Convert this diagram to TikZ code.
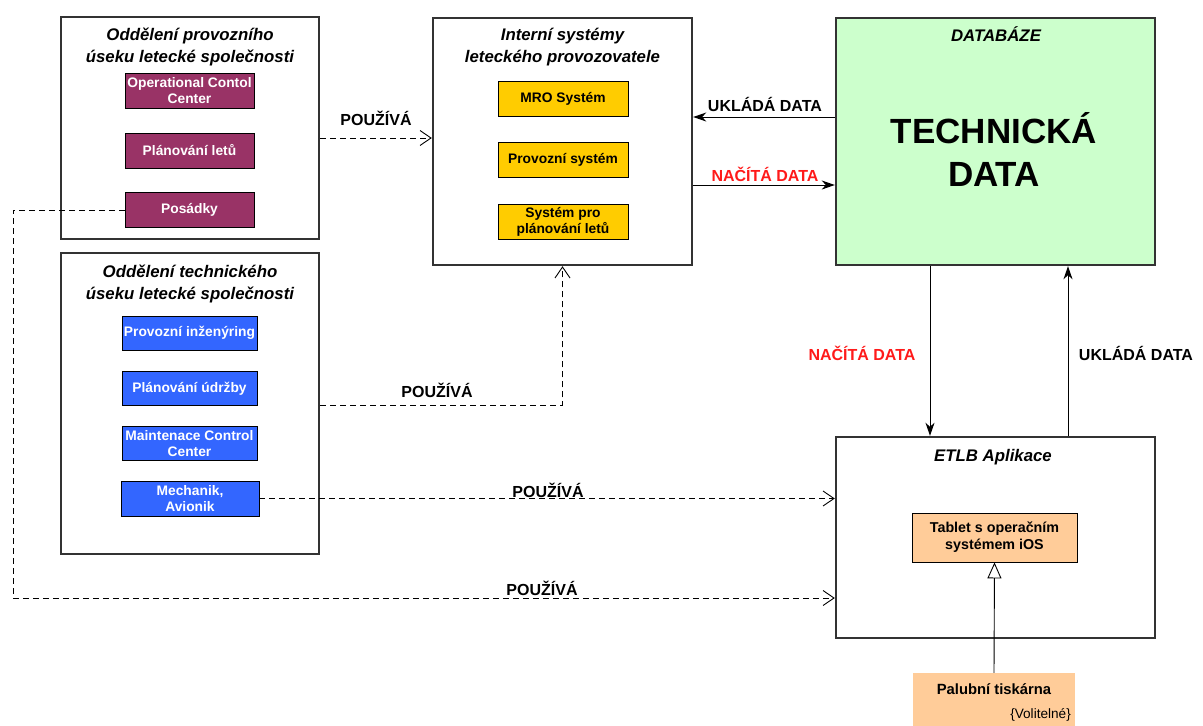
\documentclass[tikz,border=0pt]{standalone}
\usepackage{fontspec}
\setmainfont{Liberation Sans}
\usetikzlibrary{arrows.meta}

\definecolor{grpframe}{HTML}{333333}
\definecolor{opspurple}{HTML}{993366}
\definecolor{techblue}{HTML}{3366FF}
\definecolor{sysyellow}{HTML}{FFCC00}
\definecolor{dbgreen}{HTML}{CCFFCC}
\definecolor{devpeach}{HTML}{FFCC99}
\definecolor{loadred}{HTML}{FF1A1A}

\newcommand{\fs}[2]{\fontsize{#1}{#2}\selectfont}

\tikzset{
  group/.style={draw=grpframe, line width=2.4pt, fill=white, inner sep=0pt},
  unit/.style={draw=black, line width=0.8pt, inner sep=0pt, align=center,
    font=\fs{13.8}{16}\bfseries},
  opsbox/.style={unit, fill=opspurple, text=white, minimum width=129pt, minimum height=35pt},
  techbox/.style={unit, fill=techblue, text=white, minimum width=135pt, minimum height=34pt},
  sysbox/.style={unit, fill=sysyellow, text=black, minimum width=130pt, minimum height=35pt},
  grouptitle/.style={align=center, font=\fs{16.8}{21.5}\bfseries\itshape, inner sep=0pt},
  flowlabel/.style={font=\fs{16}{18}\bfseries, inner sep=0pt},
  uses/.style={draw=black, line width=0.9pt, dash pattern=on 6pt off 4pt,
    -{Straight Barb[length=11pt,width=15pt,line width=0.9pt]}},
  dataflow/.style={draw=black, line width=1pt, -{Stealth[length=13pt,width=9pt,inset=4pt]}},
}

\begin{document}
\begin{tikzpicture}[x=1pt, y=-1pt]
\useasboundingbox[fill=white] (0,0) rectangle (1203,726);

% ---- organisational groups ----
\node[group, minimum width=258pt, minimum height=222pt] (ops) at (190,128) {};
\node[grouptitle] (opsT) at (190,47) {Oddělení provozního\\úseku letecké společnosti};
\node[opsbox] (occ) at (189.5,90.5) {Operational Contol\\Center};
\node[opsbox] (plan) at (189.5,150.5) {Plánování letů};
\node[opsbox] (crew) at (189.5,210) {Posádky};

\node[group, minimum width=258pt, minimum height=301pt] (tech) at (190,403.5) {};
\node[grouptitle] (techT) at (190,284) {Oddělení technického\\úseku letecké společnosti};
\node[techbox] (eng) at (189.5,333) {Provozní inženýring};
\node[techbox] (mplan) at (189.5,388.5) {Plánování údržby};
\node[techbox] (mcc) at (189.5,443.5) {Maintenace Control\\Center};
\node[techbox, minimum width=138pt, minimum height=35pt] (mech) at (190,498.5) {Mechanik,\\Avionik};

% ---- internal systems ----
\node[group, minimum width=259pt, minimum height=247pt] (sys) at (562.5,141.5) {};
\node[grouptitle] (sysT) at (562.5,47) {Interní systémy\\leteckého provozovatele};
\node[sysbox] (mro) at (563,98.5) {MRO Systém};
\node[sysbox] (opsys) at (563,159.5) {Provozní systém};
\node[sysbox] (fps) at (563,221.5) {Systém pro\\plánování letů};

% ---- database ----
\node[group, fill=dbgreen, minimum width=319pt, minimum height=247pt] (db) at (995.5,141.5) {};
\node[grouptitle] (dbT) at (996,34) {DATABÁZE};
\node[align=center, font=\fs{35}{43}\bfseries, inner sep=0pt] (dbData) at (994,149) {TECHNICKÁ\\DATA};

% ---- ETLB application ----
\node[group, minimum width=319pt, minimum height=201pt] (etlb) at (995.5,537.5) {};
\node[grouptitle] (etlbT) at (993,457) {ETLB Aplikace};
\node[unit, fill=devpeach, text=black, font=\fs{14.3}{17}\bfseries, minimum width=165pt, minimum height=49pt] (tablet) at (994.5,537.5) {Tablet s operačním\\systémem iOS};
\node[fill=devpeach, minimum width=162pt, minimum height=53pt, inner sep=0pt] (printer) at (994,699.5) {};
\node[font=\fs{14.8}{17}\bfseries, inner sep=0pt] (printerT) at (994,689) {Palubní tiskárna};
\node[font=\fs{13.6}{15}, anchor=east, inner sep=0pt] (printerO) at (1071,715) {\{Volitelné\}};

% ---- usage links ----
\draw[uses] (ops.east |- 0,138) -- (sys.west |- 0,138);
\node[flowlabel] (l1) at (376,118) {POUŽÍVÁ};

\draw[uses] (tech.east |- 0,405) -| (sys.south);
\node[flowlabel] (l2) at (437,390) {POUŽÍVÁ};

\draw[uses] (mech.east) -- (etlb.west |- mech.east);
\node[flowlabel] (l3) at (548,490) {POUŽÍVÁ};

\coordinate (crewTurn) at (13,210);
\draw[uses] (crew.west) -- (crewTurn) |- (etlb.west |- 0,598);
\node[flowlabel] (l4) at (542,588) {POUŽÍVÁ};

% ---- data flows ----
\draw[dataflow] (db.west |- 0,117) -- (sys.east |- 0,117);
\node[flowlabel] (d1) at (765,104) {UKLÁDÁ DATA};

\draw[dataflow] (sys.east |- 0,185) -- (db.west |- 0,185);
\node[flowlabel, text=loadred] (d2) at (765,174) {NAČÍTÁ DATA};

\draw[dataflow] (db.south -| 930,0) -- (etlb.north -| 930,0);
\node[flowlabel, text=loadred] (d3) at (862,353) {NAČÍTÁ DATA};

\draw[dataflow] (etlb.north -| 1068,0) -- (db.south -| 1068,0);
\node[flowlabel] (d4) at (1136,353) {UKLÁDÁ DATA};

% ---- optional printer extends the tablet ----
\draw[line width=0.9pt, -{Triangle[open, length=16pt, width=14pt, line width=0.9pt]}] (printer.north) -- (tablet.south);
\end{tikzpicture}
\end{document}
